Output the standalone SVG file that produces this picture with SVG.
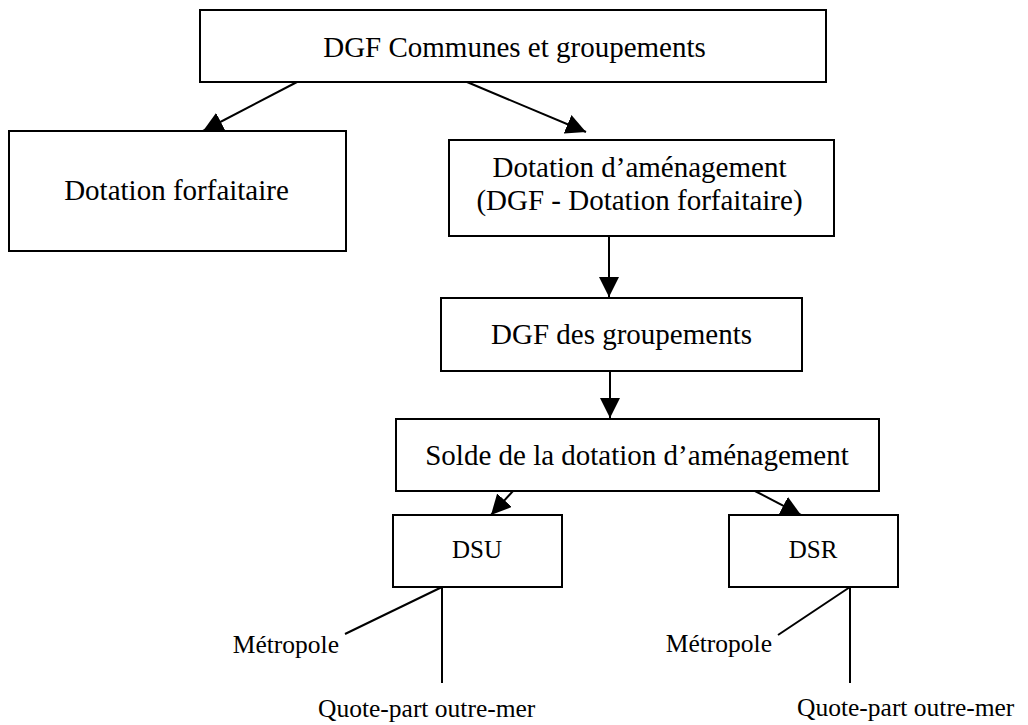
<svg xmlns="http://www.w3.org/2000/svg" width="1028" height="725" viewBox="0 0 1028 725">
  <style>
    .box { fill: #ffffff; stroke: #000000; stroke-width: 2; }
    .edge { fill: none; stroke: #000000; stroke-width: 2; }
    .t { font-family: "Liberation Serif", "Times New Roman", serif; fill: #000000; }
    .big { font-size: 29px; text-anchor: middle; }
    .mid { font-size: 25px; text-anchor: middle; }
    .lbl { font-size: 25.5px; }
  </style>
  <defs>
    <marker id="arrow" markerUnits="userSpaceOnUse" viewBox="0 0 20 20" refX="20" refY="10" markerWidth="20" markerHeight="20" orient="auto">
      <path d="M0,0 L20,10 L0,20 z" fill="#000000"/>
    </marker>
  </defs>
  <rect width="1028" height="725" fill="#ffffff"/>

  <g id="connectors">
    <line class="edge" x1="297" y1="82" x2="203" y2="131" marker-end="url(#arrow)"/>
    <line class="edge" x1="467" y1="82" x2="586" y2="132" marker-end="url(#arrow)"/>
    <line class="edge" x1="609" y1="236" x2="609" y2="297" marker-end="url(#arrow)"/>
    <line class="edge" x1="610" y1="371" x2="610" y2="418" marker-end="url(#arrow)"/>
    <line class="edge" x1="513" y1="491" x2="491" y2="515" marker-end="url(#arrow)"/>
    <line class="edge" x1="755" y1="491" x2="801" y2="515" marker-end="url(#arrow)"/>
    <line class="edge" x1="442" y1="587" x2="345" y2="634"/>
    <line class="edge" x1="442" y1="587" x2="442" y2="683"/>
    <line class="edge" x1="850" y1="587" x2="778" y2="635"/>
    <line class="edge" x1="850" y1="587" x2="850" y2="683"/>
  </g>

  <g id="dgf-communes">
    <rect class="box" x="200" y="10" width="626" height="72"/>
    <text class="t big" x="514.5" y="57">DGF Communes et groupements</text>
  </g>
  <g id="dotation-forfaitaire">
    <rect class="box" x="9" y="131" width="337" height="120"/>
    <text class="t big" x="176.5" y="200">Dotation forfaitaire</text>
  </g>
  <g id="dotation-amenagement">
    <rect class="box" x="449" y="140" width="385" height="96"/>
    <text class="t big" x="639.5" y="177">Dotation d’aménagement</text>
    <text class="t big" x="639.5" y="210">(DGF - Dotation forfaitaire)</text>
  </g>
  <g id="dgf-groupements">
    <rect class="box" x="441" y="298" width="361" height="73"/>
    <text class="t big" x="621.5" y="344">DGF des groupements</text>
  </g>
  <g id="solde">
    <rect class="box" x="396" y="419" width="483" height="72"/>
    <text class="t big" x="637" y="465">Solde de la dotation d’aménagement</text>
  </g>
  <g id="dsu">
    <rect class="box" x="393" y="515" width="169" height="72"/>
    <text class="t mid" x="477" y="558">DSU</text>
  </g>
  <g id="dsr">
    <rect class="box" x="729" y="515" width="169" height="72"/>
    <text class="t mid" x="813" y="558">DSR</text>
  </g>
  <g id="dsu-metropole">
    <text class="t lbl" x="339" y="653" text-anchor="end">Métropole</text>
  </g>
  <g id="dsu-outremer">
    <text class="t lbl" x="318" y="717">Quote-part outre-mer</text>
  </g>
  <g id="dsr-metropole">
    <text class="t lbl" x="772" y="652" text-anchor="end">Métropole</text>
  </g>
  <g id="dsr-outremer">
    <text class="t lbl" x="797" y="716">Quote-part outre-mer</text>
  </g>
</svg>
